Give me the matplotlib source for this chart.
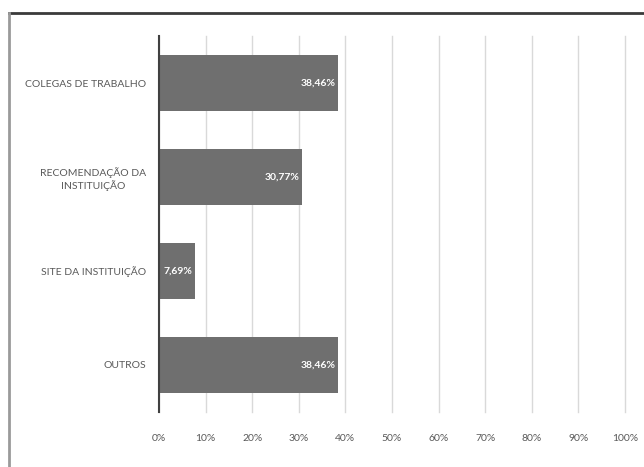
import matplotlib.pyplot as plt
from matplotlib.lines import Line2D
from matplotlib.ticker import FuncFormatter

categorias = ['COLEGAS DE TRABALHO', 'RECOMENDAÇÃO DA\nINSTITUIÇÃO',
              'SITE DA INSTITUIÇÃO', 'OUTROS']
percentuais = [38.46, 30.77, 7.69, 38.46]

plt.rcParams['font.family'] = ['Lato', 'DejaVu Sans']

fig = plt.figure(figsize=(6.44, 4.67), dpi=100)
ax = fig.add_axes([0.2469, 0.1178, 0.7236, 0.8051])

pos = list(range(len(categorias)))
barras = ax.barh(pos, percentuais, height=0.6, color='#6f6f6f', zorder=3)

for b, v in zip(barras, percentuais):
    ax.text(v - 0.6, b.get_y() + b.get_height() / 2,
            '{:.2f}%'.format(v).replace('.', ','),
            ha='right', va='center', color='white', fontsize=7.5,
            fontweight='bold', zorder=4)

ax.set_xlim(0, 100)
ax.set_ylim(3.5, -0.5)
ax.set_xticks(range(0, 101, 10))
ax.xaxis.set_major_formatter(FuncFormatter(lambda x, p: '{:.0f}%'.format(x)))
ax.set_yticks(pos)
ax.set_yticklabels(categorias, multialignment='center')
ax.tick_params(axis='both', length=0, labelsize=7.5, labelcolor='#595959')
ax.tick_params(axis='x', pad=16)
ax.tick_params(axis='y', pad=9)

ax.grid(axis='x', color='#d9d9d9', linewidth=1, zorder=0)
for g in ax.get_xgridlines():
    g.set_clip_on(False)
for s in ['top', 'right', 'bottom']:
    ax.spines[s].set_visible(False)
ax.spines['left'].set_color('#404040')
ax.spines['left'].set_linewidth(1.5)
ax.spines['left'].set_zorder(5)

# moldura do gráfico (cortada à direita e embaixo)
fig.add_artist(Line2D([9 / 644, 1.0], [1 - 13 / 467] * 2, color='#3a3a3a', linewidth=2))
fig.add_artist(Line2D([9 / 644] * 2, [0.0, 1 - 13 / 467], color='#9a9a9a', linewidth=2))

fig.savefig('out.png', dpi=100)
